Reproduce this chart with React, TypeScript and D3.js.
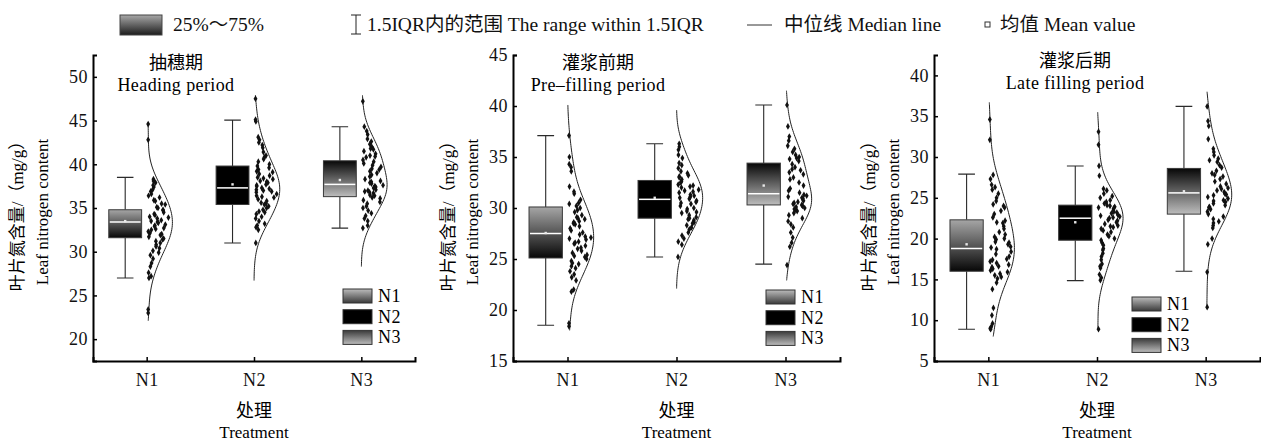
import React, { useEffect, useRef } from 'react';
import * as d3 from 'd3';

const W = 1261;
const H = 441;
const FONT = "'Liberation Serif', 'Noto Sans CJK SC', serif";

// categories and labels
const treatments = ['N1', 'N2', 'N3'];
const periodZh = ['抽穗期', '灌浆前期', '灌浆后期'];
const periodEn = ['Heading period', 'Pre–filling period', 'Late filling period'];
const yTitleZh = '叶片氮含量/（mg/g）';
const yTitleEn = 'Leaf nitrogen content';

// y axis per period
const yDomains = [[17.5, 52.5], [15, 45], [5, 42.5]];
const yTicks = [
  [20, 25, 30, 35, 40, 45, 50],
  [15, 20, 25, 30, 35, 40, 45],
  [5, 10, 15, 20, 25, 30, 35, 40],
];

// box statistics [period][treatment]
const q1 = [[31.6, 35.4, 36.3], [25.1, 29.0, 30.3], [16.0, 19.8, 23.0]];
const median = [[33.4, 37.3, 37.7], [27.5, 30.85, 31.4], [18.8, 22.5, 25.6]];
const q3 = [[34.8, 39.8, 40.4], [30.1, 32.7, 34.4], [22.3, 24.1, 28.6]];
const whiskerLow = [[27.0, 31.0, 32.7], [18.5, 25.2, 24.5], [8.9, 14.85, 16.0]];
const whiskerHigh = [[38.5, 45.05, 44.3], [37.1, 36.3, 40.1], [27.9, 28.9, 36.2]];
const means = [[33.5, 37.7, 38.2], [27.55, 31.0, 32.2], [19.3, 22.0, 25.8]];

// extent of the half violin curves
const curveLow = [[22.1, 26.7, 28.3], [18.0, 22.1, 22.9], [8.0, 8.9, 11.6]];
const curveHigh = [[44.8, 47.9, 47.9], [40.1, 39.6, 41.5], [36.7, 35.5, 38.0]];

// raw samples
const headingN1 = [44.6, 42.8, 38.3, 38.1, 37.9, 37.6, 37.4, 37.1, 36.9, 36.6, 36.4, 36.2, 35.9, 35.8, 35.5, 35.4, 35.1, 35.0, 34.8, 34.7, 34.5, 34.3, 34.2, 34.0, 33.9, 33.8, 33.6, 33.5, 33.4, 33.3, 33.1, 33.0, 32.9, 32.7, 32.6, 32.5, 32.3, 32.1, 32.0, 31.9, 31.7, 31.5, 31.4, 31.2, 31.0, 30.8, 30.6, 30.4, 30.1, 29.9, 29.6, 29.2, 28.7, 28.3, 27.6, 27.2, 27.0, 23.4, 23.0];
const headingN2 = [47.5, 45.1, 44.9, 43.1, 42.8, 42.5, 42.2, 41.9, 41.4, 41.0, 40.8, 40.6, 40.3, 40.0, 39.8, 39.6, 39.4, 39.2, 39.1, 38.9, 38.7, 38.5, 38.4, 38.3, 38.1, 38.0, 37.9, 37.7, 37.6, 37.5, 37.3, 37.2, 37.1, 37.0, 36.9, 36.8, 36.6, 36.4, 36.3, 36.2, 36.0, 35.8, 35.6, 35.5, 35.4, 35.2, 35.0, 34.8, 34.6, 34.5, 34.3, 34.0, 33.8, 33.5, 33.2, 33.0, 32.8, 32.5, 31.0];
const headingN3 = [47.2, 44.3, 43.8, 43.4, 42.9, 42.6, 42.3, 42.0, 41.8, 41.7, 41.5, 41.2, 41.0, 40.9, 40.8, 40.5, 40.3, 40.1, 39.9, 39.7, 39.5, 39.4, 39.2, 39.0, 38.8, 38.6, 38.3, 38.1, 38.0, 37.9, 37.8, 37.6, 37.5, 37.4, 37.3, 37.1, 37.0, 36.9, 36.8, 36.7, 36.5, 36.4, 36.2, 36.1, 35.9, 35.7, 35.5, 35.2, 35.0, 34.7, 34.4, 34.1, 33.8, 33.5, 33.0, 32.7];
const preN1 = [37.1, 35.0, 34.3, 34.0, 33.6, 32.1, 31.6, 31.4, 30.8, 30.5, 30.4, 30.2, 30.0, 29.8, 29.6, 29.3, 29.1, 29.0, 28.9, 28.7, 28.6, 28.5, 28.4, 28.2, 28.0, 27.8, 27.6, 27.4, 27.2, 27.1, 27.0, 26.9, 26.7, 26.6, 26.5, 26.3, 26.1, 26.0, 25.8, 25.6, 25.4, 25.3, 25.2, 25.0, 24.8, 24.6, 24.5, 24.3, 24.1, 23.8, 23.5, 23.2, 22.9, 22.0, 21.8, 18.7, 18.4];
const preN2 = [36.3, 36.0, 35.7, 35.2, 34.9, 34.4, 34.2, 33.9, 33.6, 33.4, 33.2, 33.1, 33.0, 32.8, 32.6, 32.5, 32.3, 32.2, 32.1, 32.0, 31.8, 31.7, 31.6, 31.5, 31.3, 31.2, 31.1, 31.0, 30.9, 30.7, 30.6, 30.5, 30.4, 30.2, 30.0, 29.9, 29.7, 29.6, 29.5, 29.3, 29.1, 29.0, 28.9, 28.8, 28.6, 28.5, 28.3, 28.1, 27.9, 27.6, 27.3, 27.0, 26.7, 26.4, 25.2];
const preN3 = [40.1, 38.0, 37.0, 36.6, 36.1, 35.8, 35.5, 35.2, 35.0, 34.9, 34.8, 34.6, 34.3, 34.0, 33.8, 33.7, 33.5, 33.3, 33.0, 32.8, 32.5, 32.2, 31.9, 31.7, 31.5, 31.3, 31.2, 31.1, 31.0, 30.9, 30.7, 30.6, 30.5, 30.4, 30.3, 30.2, 30.1, 30.0, 29.9, 29.8, 29.7, 29.5, 29.3, 29.0, 28.7, 28.4, 28.1, 27.6, 27.1, 26.6, 26.2, 24.4];
const lateN1 = [34.6, 32.1, 27.8, 27.3, 26.6, 26.3, 26.0, 25.5, 25.0, 24.6, 24.2, 24.0, 23.8, 23.4, 23.0, 22.6, 22.2, 22.0, 21.9, 21.5, 21.2, 20.8, 20.5, 20.2, 20.0, 19.9, 19.6, 19.5, 19.3, 19.0, 18.9, 18.7, 18.4, 18.1, 17.8, 17.5, 17.4, 17.2, 17.0, 16.8, 16.6, 16.5, 16.3, 16.1, 15.9, 15.7, 15.5, 15.3, 15.1, 14.6, 13.8, 11.5, 10.6, 9.6, 9.2, 9.0, 8.9];
const lateN2 = [33.1, 31.5, 28.9, 27.7, 26.1, 25.9, 25.5, 25.2, 25.0, 24.7, 24.5, 24.3, 24.1, 24.0, 23.9, 23.8, 23.7, 23.5, 23.3, 23.2, 23.1, 22.9, 22.8, 22.7, 22.6, 22.5, 22.3, 22.2, 22.0, 21.8, 21.6, 21.5, 21.4, 21.2, 21.0, 20.8, 20.5, 20.3, 20.0, 19.8, 19.5, 19.2, 18.8, 18.6, 18.2, 17.8, 17.4, 16.9, 16.6, 16.4, 15.6, 15.2, 14.9, 8.9];
const lateN3 = [36.2, 34.4, 33.8, 32.2, 31.0, 30.6, 30.2, 29.8, 29.6, 29.4, 29.0, 28.7, 28.3, 28.0, 27.8, 27.6, 27.3, 27.0, 26.7, 26.4, 26.2, 26.1, 25.9, 25.7, 25.5, 25.4, 25.3, 25.1, 24.9, 24.7, 24.6, 24.5, 24.3, 24.1, 23.9, 23.8, 23.6, 23.3, 23.0, 22.7, 22.4, 22.1, 21.9, 21.6, 21.3, 20.0, 19.3, 15.9, 11.6];
const samples = [
  [headingN1, headingN2, headingN3],
  [preN1, preN2, preN3],
  [lateN1, lateN2, lateN3],
];

// layout
const panelLeft = [93, 513, 934];
const panelRight = [415, 840, 1260];
const plotTop = 55;
const plotBottom = 361;
const titleX = [176, 598, 1075];
const titleY = [[69, 91], [69, 91], [67, 89]];
const keyPos = [[343, 289], [766, 290], [1132, 297]];
const yTitlePos = [[17, 42], [448, 472], [869, 893]];

const gauss = (u: number) => Math.exp(-0.5 * u * u) / Math.sqrt(2 * Math.PI);
// fixed scatter offset for a dot, so the jitter is the same on every render
const jitter = (k: number, i: number, p: number) => {
  const s = Math.sin(k * 127.1 + i * 311.7 + p * 74.7) * 43758.5453;
  return s - Math.floor(s);
};

export default function App() {
  const svgRef = useRef<SVGSVGElement>(null);

  useEffect(() => {
    const svg = d3.select(svgRef.current);
    svg.selectAll('*').remove();
    svg.attr('width', W).attr('height', H).style('background', '#fff').style('font-family', FONT);

    // gradients
    const defs = svg.append('defs');
    const grad = (id: string, top: string, bottom: string) => {
      const g = defs.append('linearGradient').attr('id', id)
        .attr('x1', 0).attr('y1', 0).attr('x2', 0).attr('y2', 1);
      g.append('stop').attr('offset', 0).attr('stop-color', top);
      g.append('stop').attr('offset', 1).attr('stop-color', bottom);
    };
    grad('boxN1', '#a6a6a6', '#070707');
    grad('boxN3', '#070707', '#bdbdbd');
    grad('keyN1', '#bcbcbc', '#3a3a3a');
    grad('keyN3', '#3a3a3a', '#bcbcbc');
    grad('keyIQR', '#a8a8a8', '#1c1c1c');
    const boxFill = ['url(#boxN1)', '#000', 'url(#boxN3)'];
    const keyFill = ['url(#keyN1)', '#000', 'url(#keyN3)'];

    // top legend
    const top = svg.append('g').attr('font-size', 19.5).attr('font-family', FONT).attr('fill', '#111');
    top.append('rect').attr('x', 120).attr('y', 15).attr('width', 42).attr('height', 20)
      .attr('fill', 'url(#keyIQR)').attr('stroke', '#444');
    top.append('text').attr('x', 173).attr('y', 31).text('25%～75%');
    top.append('path').attr('d', 'M351,15H361M356,15V34M351,34H361')
      .attr('stroke', '#222').attr('fill', 'none');
    top.append('text').attr('x', 367).attr('y', 31).text('1.5IQR内的范围 The range within 1.5IQR');
    top.append('line').attr('x1', 747).attr('x2', 772).attr('y1', 25).attr('y2', 25).attr('stroke', '#333');
    top.append('text').attr('x', 784).attr('y', 31).text('中位线 Median line');
    top.append('rect').attr('x', 985).attr('y', 22).attr('width', 5).attr('height', 5)
      .attr('fill', '#fff').attr('stroke', '#333');
    top.append('text').attr('x', 1000).attr('y', 31).text('均值 Mean value');

    samples.forEach((groups, p) => {
      const x = d3.scaleLinear().domain([0.5, 3.5]).range([panelLeft[p], panelRight[p]]);
      const y = d3.scaleLinear().domain(yDomains[p]).range([plotBottom, plotTop]);
      const g = svg.append('g');

      treatments.forEach((t, i) => {
        const c = i + 1;
        const bx = x(c - 0.2);
        const hw = x(c + 0.153) - x(c);
        const cap = x(c + 0.077) - x(c);

        // whiskers
        g.append('path')
          .attr('d', `M${bx},${y(whiskerHigh[p][i])}V${y(q3[p][i])}M${bx},${y(q1[p][i])}V${y(whiskerLow[p][i])}`
            + `M${bx - cap},${y(whiskerHigh[p][i])}H${bx + cap}M${bx - cap},${y(whiskerLow[p][i])}H${bx + cap}`)
          .attr('stroke', '#2a2a2a').attr('stroke-width', 1.1).attr('fill', 'none');

        // box
        g.append('rect')
          .attr('x', bx - hw).attr('y', y(q3[p][i]))
          .attr('width', hw * 2).attr('height', y(q1[p][i]) - y(q3[p][i]))
          .attr('fill', boxFill[i]).attr('stroke', '#3a3a3a').attr('stroke-width', 1);

        g.append('line')
          .attr('x1', bx - hw + 1).attr('x2', bx + hw - 1)
          .attr('y1', y(median[p][i])).attr('y2', y(median[p][i]))
          .attr('stroke', '#fff').attr('stroke-width', 1.5);

        g.append('rect')
          .attr('x', bx - 1.2).attr('y', y(means[p][i]) - 1.2)
          .attr('width', 2.4).attr('height', 2.4).attr('fill', '#e8e8e8');

        // half violin from kernel density of the samples
        const vals = groups[i];
        const h = 1.06 * (d3.deviation(vals) as number) * Math.pow(vals.length, -0.2) * 1.15;
        const dens = (v: number) => (d3.mean(vals, (d) => gauss((v - d) / h)) as number) / h;
        const lo = curveLow[p][i];
        const hi = curveHigh[p][i];
        const grid = d3.range(101).map((k) => lo + ((hi - lo) * k) / 100);
        const maxD = d3.max(grid, dens) as number;
        const peak = x(c + 0.24) - x(c);
        const x0 = x(c);

        const line = d3.line<number>()
          .x((v) => x0 + (dens(v) / maxD) * peak)
          .y((v) => y(v))
          .curve(d3.curveBasis);
        g.append('path').attr('d', line(grid)).attr('fill', 'none')
          .attr('stroke', '#222').attr('stroke-width', 1);

        const sym = d3.symbol().type(d3.symbolDiamond).size(13);
        g.append('g').selectAll('path').data(vals).join('path')
          .attr('d', sym)
          .attr('fill', '#111')
          .attr('transform', (v, k) => {
            const room = Math.max(0, (dens(v) / maxD) * peak - 4);
            return `translate(${x0 + 1.5 + jitter(k, i, p) * room},${y(v)})`;
          });
      });

      // axes
      const yAxis = g.append('g').attr('transform', `translate(${panelLeft[p]},0)`)
        .call(d3.axisLeft(y).tickValues(yTicks[p]).tickFormat(d3.format('d'))
          .tickSizeInner(-4).tickSizeOuter(-4).tickPadding(5));
      const xAxis = g.append('g').attr('transform', `translate(0,${plotBottom})`)
        .call(d3.axisBottom(x).tickValues([1, 2, 3]).tickFormat((d) => treatments[(d as number) - 1])
          .tickSizeInner(-4).tickSizeOuter(-4).tickPadding(12));
      [yAxis, xAxis].forEach((a) => {
        a.attr('font-family', FONT).attr('font-size', 18);
        a.select('.domain').attr('stroke', '#000').attr('stroke-width', 2);
        a.selectAll('.tick line').attr('stroke', '#000').attr('stroke-width', 1.5);
        a.selectAll('.tick text').attr('fill', '#111').attr('letter-spacing', 0.5);
      });

      // titles
      g.append('text').attr('x', titleX[p]).attr('y', titleY[p][0]).attr('text-anchor', 'middle')
        .attr('font-size', 18).text(periodZh[p]);
      g.append('text').attr('x', titleX[p]).attr('y', titleY[p][1]).attr('text-anchor', 'middle')
        .attr('font-size', 18).attr('letter-spacing', 0.4).text(periodEn[p]);

      const midX = x(2);
      g.append('text').attr('x', midX).attr('y', 417).attr('text-anchor', 'middle')
        .attr('font-size', 18).text('处理');
      g.append('text').attr('x', midX).attr('y', 438).attr('text-anchor', 'middle')
        .attr('font-size', 17).text('Treatment');

      const yc = (plotTop + plotBottom) / 2 + 4;
      g.append('text').attr('transform', `translate(${yTitlePos[p][0]},${yc}) rotate(-90)`)
        .attr('text-anchor', 'middle').attr('dy', '0.35em').attr('font-size', 17).text(yTitleZh);
      g.append('text').attr('transform', `translate(${yTitlePos[p][1]},${yc}) rotate(-90)`)
        .attr('text-anchor', 'middle').attr('dy', '0.35em').attr('font-size', 17).text(yTitleEn);

      // treatment key
      const key = g.append('g');
      treatments.forEach((t, i) => {
        const ky = keyPos[p][1] + i * 20.7;
        key.append('rect').attr('x', keyPos[p][0]).attr('y', ky).attr('width', 29).attr('height', 14)
          .attr('fill', keyFill[i]).attr('stroke', '#333');
        key.append('text').attr('x', keyPos[p][0] + 35).attr('y', ky + 13)
          .attr('font-size', 18).attr('letter-spacing', 0.5).text(t);
      });
    });
  }, []);

  return <svg ref={svgRef} style={{ position: 'absolute', left: 0, top: 0 }} />;
}
